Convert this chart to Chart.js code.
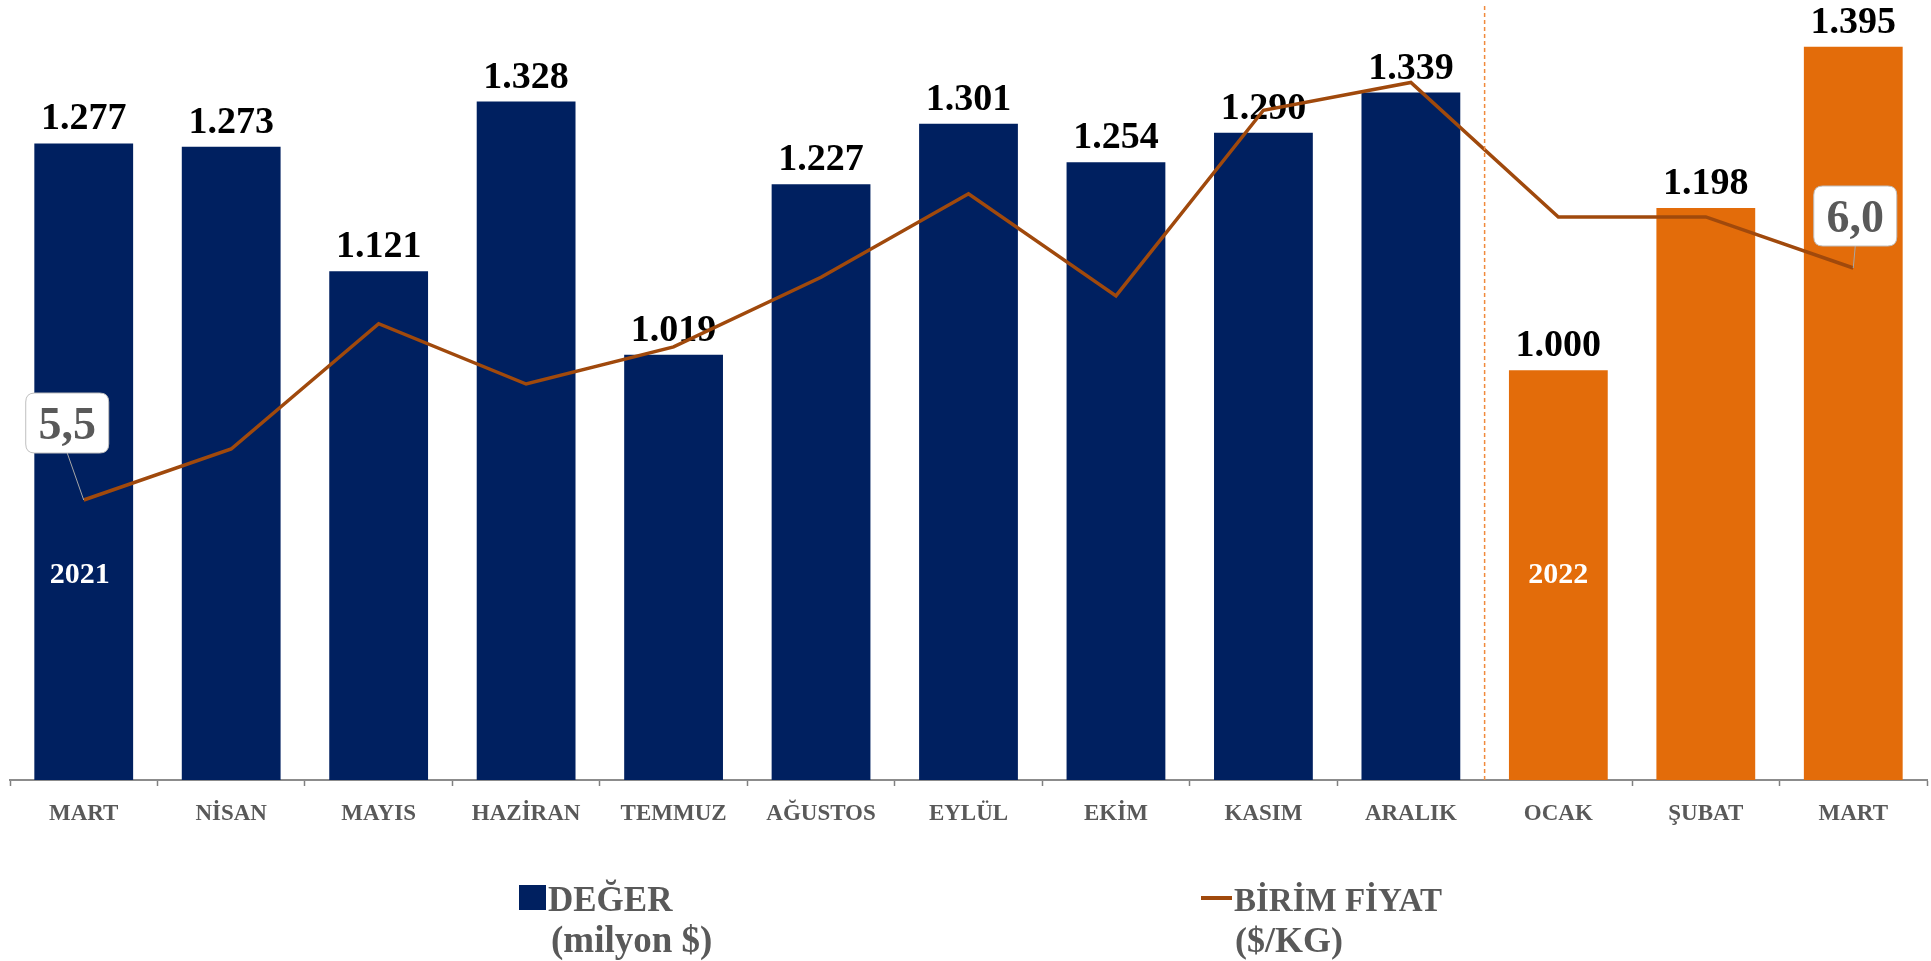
<!DOCTYPE html>
<html>
<head>
<meta charset="utf-8">
<script src="https://cdn.jsdelivr.net/npm/chart.js@4/dist/chart.umd.min.js"></script>
<style>
  html, body { margin: 0; padding: 0; background: #ffffff; }
  #wrap { position: relative; width: 1931px; height: 961px; }
</style>
</head>
<body>
<div id="wrap"><canvas id="c"></canvas></div>
<script>
// ---- Data ----
const categories = ['MART', 'NİSAN', 'MAYIS', 'HAZİRAN', 'TEMMUZ', 'AĞUSTOS', 'EYLÜL', 'EKİM', 'KASIM', 'ARALIK', 'OCAK', 'ŞUBAT', 'MART'];
const degerValues = [1277, 1273, 1121, 1328, 1019, 1227, 1301, 1254, 1290, 1339, 1000, 1198, 1395];
const birimFiyatValues = [5.50, 5.61, 5.88, 5.75, 5.83, 5.98, 6.16, 5.94, 6.34, 6.40, 6.11, 6.11, 6.00];
const yearLabels = ['2021', '2022'];
const yearStartIndex = [0, 10];
const calloutIndex = [0, 12];
const legendDeger = ['DEĞER', '(milyon $)'];
const legendFiyat = ['BİRİM FİYAT', '($/KG)'];

const NAVY = '#002060';
const ORANGE = '#E36C0A';
const LINE = '#A0490C';
const GREY_TEXT = '#595959';
const barColors = degerValues.map((v, i) => i >= yearStartIndex[1] ? ORANGE : NAVY);

function fmtThousand(v) {
  return Math.floor(v / 1000) + '.' + String(v % 1000).padStart(3, '0');
}
function fmtDec(v) {
  return v.toFixed(1).replace('.', ',');
}
function roundRect(ctx, x, y, w, h, r) {
  ctx.beginPath();
  ctx.moveTo(x + r, y);
  ctx.lineTo(x + w - r, y);
  ctx.quadraticCurveTo(x + w, y, x + w, y + r);
  ctx.lineTo(x + w, y + h - r);
  ctx.quadraticCurveTo(x + w, y + h, x + w - r, y + h);
  ctx.lineTo(x + r, y + h);
  ctx.quadraticCurveTo(x, y + h, x, y + h - r);
  ctx.lineTo(x, y + r);
  ctx.quadraticCurveTo(x, y, x + r, y);
  ctx.closePath();
}

const overlayPlugin = {
  id: 'overlay',
  afterDatasetDraw(chart, args) {
    if (args.index !== 0) return;
    const ctx = chart.ctx;
    const meta = chart.getDatasetMeta(0);
    ctx.save();
    // value labels above bars
    ctx.font = 'bold 38px "Liberation Serif"';
    ctx.fillStyle = '#000000';
    ctx.textAlign = 'center';
    ctx.textBaseline = 'alphabetic';
    meta.data.forEach((bar, i) => {
      ctx.fillText(fmtThousand(degerValues[i]), bar.x, bar.y - 14);
    });
    // year labels inside bars
    ctx.font = 'bold 30px "Liberation Serif"';
    ctx.fillStyle = '#ffffff';
    ctx.textBaseline = 'middle';
    const yScale = chart.scales.y;
    yearLabels.forEach((t, k) => {
      const bar = meta.data[yearStartIndex[k]];
      ctx.fillText(t, bar.x - (k === 0 ? 4 : 0), yScale.getPixelForValue(750));
    });
    ctx.restore();
  },
  afterDatasetsDraw(chart) {
    const ctx = chart.ctx;
    const area = chart.chartArea;
    const barMeta = chart.getDatasetMeta(0);
    const lineMeta = chart.getDatasetMeta(1);
    ctx.save();
    // dashed separator between years
    const xSep = (barMeta.data[yearStartIndex[1] - 1].x + barMeta.data[yearStartIndex[1]].x) / 2;
    ctx.strokeStyle = '#F08A3C';
    ctx.lineWidth = 1.5;
    ctx.setLineDash([4, 3]);
    ctx.beginPath();
    ctx.moveTo(xSep, 6);
    ctx.lineTo(xSep, area.bottom);
    ctx.stroke();
    ctx.setLineDash([]);
    // callouts
    const offsets = [[-16.5, -77], [2, -52]];
    calloutIndex.forEach((idx, k) => {
      const p = lineMeta.data[idx];
      const cx = p.x + offsets[k][0];
      const cy = p.y + offsets[k][1];
      const w = 83, h = 60;
      ctx.strokeStyle = '#A6A6A6';
      ctx.lineWidth = 1;
      ctx.beginPath();
      ctx.moveTo(cx, cy + h / 2);
      ctx.lineTo(p.x, p.y);
      ctx.stroke();
      roundRect(ctx, cx - w / 2, cy - h / 2, w, h, 9);
      ctx.fillStyle = '#ffffff';
      ctx.fill();
      ctx.strokeStyle = '#BFBFBF';
      ctx.stroke();
      ctx.fillStyle = GREY_TEXT;
      ctx.font = 'bold 46px "Liberation Serif"';
      ctx.textAlign = 'center';
      ctx.textBaseline = 'alphabetic';
      ctx.fillText(fmtDec(birimFiyatValues[idx]), cx, cy + 16);
    });
    ctx.restore();
  },
  afterDraw(chart) {
    const ctx = chart.ctx;
    ctx.save();
    ctx.fillStyle = GREY_TEXT;
    ctx.textAlign = 'left';
    ctx.textBaseline = 'alphabetic';
    // legend item 1
    ctx.fillStyle = NAVY;
    ctx.fillRect(519, 885, 27, 25);
    ctx.fillStyle = GREY_TEXT;
    ctx.font = 'bold 35px "Liberation Serif"';
    ctx.fillText(legendDeger[0], 548, 911);
    ctx.font = 'bold 37px "Liberation Serif"';
    ctx.fillText(legendDeger[1], 551, 952);
    // legend item 2
    ctx.strokeStyle = LINE;
    ctx.lineWidth = 4;
    ctx.beginPath();
    ctx.moveTo(1201, 898);
    ctx.lineTo(1232, 898);
    ctx.stroke();
    ctx.font = 'bold 33px "Liberation Serif"';
    ctx.fillText(legendFiyat[0], 1234, 911);
    ctx.font = 'bold 36px "Liberation Serif"';
    ctx.fillText(legendFiyat[1], 1235, 952);
    ctx.restore();
  }
};

new Chart(document.getElementById('c'), {
  type: 'bar',
  data: {
    labels: categories,
    datasets: [
      {
        label: 'DEĞER (milyon $)',
        data: degerValues,
        backgroundColor: barColors,
        barPercentage: 0.67,
        categoryPercentage: 1.0,
        yAxisID: 'y',
        order: 1
      },
      {
        type: 'line',
        label: 'BİRİM FİYAT ($/KG)',
        data: birimFiyatValues,
        borderColor: LINE,
        borderWidth: 3.5,
        pointRadius: 0,
        tension: 0,
        fill: false,
        yAxisID: 'y2',
        order: 0
      }
    ]
  },
  options: {
    responsive: true,
    maintainAspectRatio: false,
    animation: false,
    layout: { padding: { left: 10, right: 4, top: 0, bottom: 0 } },
    plugins: {
      legend: { display: false },
      tooltip: { enabled: false },
      title: { display: false }
    },
    scales: {
      x: {
        offset: true,
        grid: {
          offset: true,
          drawOnChartArea: false,
          drawTicks: true,
          tickLength: 6,
          tickWidth: 1.5,
          tickColor: (c) => c.index === 10 ? 'rgba(0,0,0,0)' : '#808080'
        },
        border: { display: true, color: '#8C8C8C', width: 2 },
        ticks: {
          color: GREY_TEXT,
          font: { family: '"Liberation Serif"', size: 23, weight: 'bold' },
          padding: 14,
          maxRotation: 0,
          autoSkip: false
        },
        afterFit: (scale) => { scale.height = 181; }
      },
      y: {
        display: false,
        min: 500,
        max: 1452
      },
      y2: {
        display: false,
        position: 'right',
        min: 4.8966,
        max: 6.5776
      }
    }
  },
  plugins: [overlayPlugin]
});
</script>
</body>
</html>
